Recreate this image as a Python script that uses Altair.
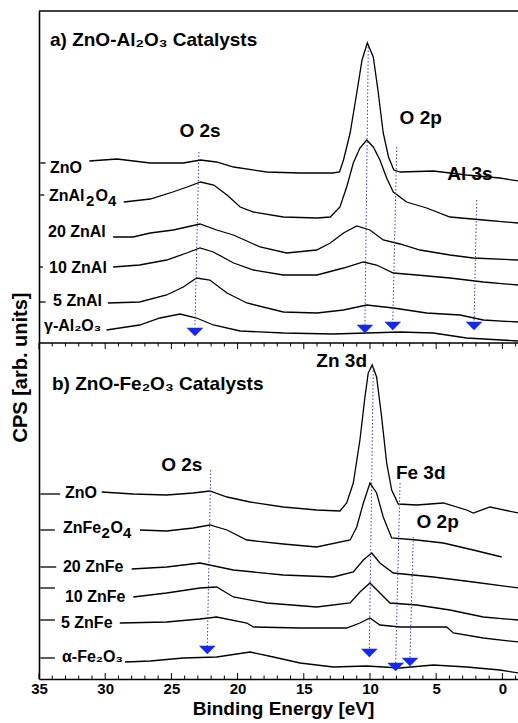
import altair as alt
import pandas as pd

FONT = "Liberation Sans"

# ---------------- Panel a) ZnO-Al2O3 spectra (binding energy [eV], stacked intensity [arb. units]) -------------
a_zno_E = [31.2, 29.1, 26.6, 24.1, 22.8, 21.6, 20.3, 17.8, 15.3, 12.8, 12.3, 12.0, 11.5, 11.0, 10.6, 10.2, 9.75, 9.4, 9.0, 8.6, 8.2, 7.7, 5.2, 2.7, 0.2, -1.2]
a_zno_u = [518, 520, 516, 516, 519, 517, 512, 507, 506, 506, 507, 519, 546, 586, 619, 636, 622, 589, 546, 522, 509, 507, 508, 504, 501, 498]
a_znal2o4_E = [28.6, 26.6, 24.9, 23.8, 22.8, 21.8, 20.8, 19.8, 18.8, 16.55, 14.0, 13.0, 12.27, 11.76, 11.26, 10.76, 10.25, 9.75, 9.25, 8.74, 8.24, 7.23, 5.72, 3.96, 1.44, -1.2]
a_znal2o4_u = [477, 480, 487, 492, 497, 494, 484, 472, 467, 462, 461, 462, 472, 492, 516, 531, 539, 532, 519, 501, 487, 477, 471, 462, 459, 456]
a_20znal_E = [29.4, 27.9, 26.6, 24.86, 23.85, 22.84, 21.58, 20.32, 18.3, 16.3, 14.03, 13.0, 12.0, 11.0, 10.0, 9.0, 7.73, 6.22, 3.96, 2.2, -1.2]
a_20znal_u = [442, 442, 446, 449, 452, 455, 449, 444, 432, 426, 429, 436, 446, 453, 449, 439, 435, 429, 424, 421, 419]
a_10znal_E = [29.4, 27.4, 25.36, 23.85, 22.84, 21.83, 20.3, 18.8, 16.55, 14.0, 12.0, 10.5, 9.5, 8.24, 6.47, 3.96, 1.44, -1.2]
a_10znal_u = [412, 414, 419, 426, 431, 427, 416, 409, 404, 404, 411, 417, 414, 406, 404, 401, 397, 394]
a_5znal_E = [29.8, 27.4, 25.36, 24.1, 23.1, 22.1, 20.8, 19.3, 16.55, 14.0, 12.0, 10.25, 8.24, 5.72, 3.2, 1.44, -1.2]
a_5znal_u = [376, 377, 384, 392, 401, 399, 386, 376, 367, 366, 369, 374, 371, 366, 364, 359, 357]
a_gal2o3_E = [29.9, 27.4, 25.86, 24.35, 23.1, 21.83, 19.8, 16.55, 12.77, 10.25, 7.73, 5.22, 2.7, -1.2]
a_gal2o3_u = [349, 354, 361, 365, 361, 354, 348, 346, 345, 346, 347, 346, 341, 338]

# ---------------- Panel b) ZnO-Fe2O3 spectra -------------
b_zno_E = [30.26, 27.88, 25.36, 23.35, 22.1, 20.8, 19.06, 16.55, 14.03, 12.27, 11.76, 11.26, 10.76, 10.38, 10.13, 9.83, 9.5, 9.12, 8.74, 8.36, 7.86, 6.47, 4.46, 2.7, 2.2, 0.94, -1.2]
b_zno_u = [187, 185, 184, 186, 188, 182, 177, 172, 169, 168, 176, 196, 239, 282, 306, 314, 302, 262, 216, 189, 175, 174, 176, 169, 166, 172, 166]
b_znfe2o4_E = [27.37, 25.36, 23.35, 22.1, 20.8, 19.3, 16.55, 14.03, 11.5, 11.0, 10.5, 10.0, 9.5, 9.0, 8.36, 6.47, 4.46, 2.2, 0.05]
b_znfe2o4_u = [149, 148, 151, 154, 149, 139, 135, 132, 139, 152, 176, 196, 186, 162, 141, 139, 136, 129, 122]
b_20znfe_E = [28.0, 25.36, 22.84, 20.32, 16.55, 12.77, 11.26, 10.5, 9.87, 9.25, 8.24, 5.22, 2.2, -1.2]
b_20znfe_u = [110, 112, 116, 109, 104, 102, 107, 119, 126, 116, 106, 102, 97, 91]
b_10znfe_E = [27.88, 25.36, 22.84, 21.58, 20.32, 17.8, 14.03, 11.5, 10.76, 10.0, 9.25, 8.49, 6.47, 3.96, 1.44, -1.2]
b_10znfe_u = [82, 86, 91, 92, 82, 76, 72, 76, 87, 96, 86, 76, 74, 69, 62, 59]
b_5znfe_E = [28.9, 25.36, 22.84, 21.58, 19.3, 18.8, 15.28, 11.76, 10.76, 10.0, 9.25, 7.73, 4.21, 3.7, 1.44, -1.2]
b_5znfe_u = [56, 57, 60, 62, 56, 52, 51, 51, 56, 61, 54, 52, 52, 46, 41, 37]
b_afe2o3_E = [28.5, 26.6, 24.1, 21.58, 19.06, 17.3, 15.28, 12.77, 10.25, 7.73, 5.22, 2.7, 0.19, -1.2]
b_afe2o3_u = [17, 18, 21, 22, 27, 22, 16, 12, 13, 11, 14, 12, 9, 6]

# short pieces of each trace visible left of its label
pre_names = ["a_zno", "a_znal2o4", "a_10znal", "a_5znal", "b_zno", "b_znfe2o4", "b_20znfe", "b_10znfe", "b_5znfe", "b_afe2o3"]
pre_E1 = [34.9, 34.9, 34.95, 35.0, 34.9, 34.9, 34.9, 34.9, 34.9, 34.9]
pre_E2 = [34.5, 34.6, 34.7, 34.5, 33.4, 33.8, 33.7, 33.8, 33.8, 33.8]
pre_u = [516, 484, 412, 377, 185, 149, 112, 91, 59, 21]

# sample labels (spinel names are assembled from pieces with lowered digits)
lab_text = ["ZnO", "20 ZnAl", "10 ZnAl", "5 ZnAl", "γ-Al₂O₃",
            "ZnO", "20 ZnFe", "10 ZnFe", "5 ZnFe", "α-Fe₂O₃",
            "ZnAl", "O", "ZnFe", "O"]
lab_E = [34.17, 34.32, 34.24, 33.94, 34.62, 33.04, 33.19, 33.04, 33.34, 33.26,
         34.245, 30.73, 33.19, 29.60]
lab_u = [511, 447, 411, 378, 353, 186, 112, 82, 56, 22,
         483, 483, 151, 151]
sub_text = ["2", "4", "2", "4"]
sub_E = [31.45, 29.79, 30.28, 28.66]
sub_u = [478, 478, 146, 146]

# peak annotations
ann_text = ["O 2s", "O 2p", "Al 3s", "Zn 3d", "O 2s", "Fe 3d", "O 2p"]
ann_E = [22.84, 6.17, 2.45, 12.14, 24.22, 6.17, 4.89]
ann_u = [548, 561, 505, 318, 214, 206, 157]

# panel titles
title_text = ["a) ZnO-Al₂O₃ Catalysts", "b) ZnO-Fe₂O₃ Catalysts"]
title_E = [34.17, 34.02]
title_u = [639, 295]

# dotted guide lines and blue markers
dl_E1 = [22.92, 10.13, 7.98, 1.94, 22.03, 9.75, 7.73, 6.73]
dl_u1 = [527, 632, 532, 479, 209, 312, 196, 142]
dl_E2 = [23.22, 10.38, 8.28, 2.14, 22.29, 10.05, 8.06, 6.98]
dl_u2 = [354, 354, 357, 357, 32, 29, 16, 21]
mk_E = [23.22, 10.38, 8.28, 2.14, 22.29, 10.05, 8.06, 6.98]
mk_u = [347, 350, 353, 353, 29, 26, 12, 17]

# axis ticks
major_ticks = [35, 30, 25, 20, 15, 10, 5, 0]
minor_ticks = [35, 34, 33, 32, 31, 30, 29, 28, 27, 26, 25, 24, 23, 22, 21, 20, 19, 18, 17,
               16, 15, 14, 13, 12, 11, 10, 9, 8, 7, 6, 5, 4, 3, 2, 1, 0, -1]
frame_u = [668, 336]
bottom_u, mid_u = 0, 336

# ---------------- build tables -------------
traces = {
    "a_zno": (a_zno_E, a_zno_u), "a_znal2o4": (a_znal2o4_E, a_znal2o4_u),
    "a_20znal": (a_20znal_E, a_20znal_u), "a_10znal": (a_10znal_E, a_10znal_u),
    "a_5znal": (a_5znal_E, a_5znal_u), "a_gal2o3": (a_gal2o3_E, a_gal2o3_u),
    "b_zno": (b_zno_E, b_zno_u), "b_znfe2o4": (b_znfe2o4_E, b_znfe2o4_u),
    "b_20znfe": (b_20znfe_E, b_20znfe_u), "b_10znfe": (b_10znfe_E, b_10znfe_u),
    "b_5znfe": (b_5znfe_E, b_5znfe_u), "b_afe2o3": (b_afe2o3_E, b_afe2o3_u),
}
rows = []
for name, (es, us) in traces.items():
    for i, (e, u) in enumerate(zip(es, us)):
        rows.append({"seg": name, "E": e, "u": u, "order": i})
for name, e1, e2, u in zip(pre_names, pre_E1, pre_E2, pre_u):
    rows.append({"seg": name + "_pre", "E": e1, "u": u, "order": 0})
    rows.append({"seg": name + "_pre", "E": e2, "u": u, "order": 1})
spec_df = pd.DataFrame(rows)

tick_rows = []
for t in minor_ticks:
    L = 6 if t in major_ticks else 3.5
    tick_rows.append({"E": t, "u": bottom_u, "u2": bottom_u + L})
    tick_rows.append({"E": t, "u": mid_u, "u2": mid_u - L})
tick_df = pd.DataFrame(tick_rows)

x_enc = alt.X("E:Q",
              scale=alt.Scale(domain=[35, -1.18], nice=False, zero=False),
              axis=alt.Axis(values=major_ticks, ticks=False, tickSize=0, grid=False,
                            labelFont=FONT, labelFontSize=15, labelFontWeight="bold",
                            labelColor="black", labelPadding=2, labelFlush=False,
                            domainColor="black", domainWidth=1.6,
                            title="Binding Energy [eV]", titleFont=FONT, titleFontSize=19,
                            titleFontWeight="bold", titleColor="black",
                            titleX=244, titleY=29, titleBaseline="middle"))
y_enc = alt.Y("u:Q",
              scale=alt.Scale(domain=[0, 668], nice=False, zero=False),
              axis=alt.Axis(labels=False, ticks=False, tickSize=0, grid=False,
                            domainColor="black", domainWidth=1.6,
                            title="CPS [arb. units]", titleFont=FONT, titleFontSize=20,
                            titleFontWeight="bold", titleColor="black",
                            titleX=-19, titleY=356, titleAngle=-90,
                            titleBaseline="middle", titleAlign="center"))

spectra = alt.Chart(spec_df).mark_line(color="black", strokeWidth=1.3, clip=True).encode(
    x=x_enc, y=y_enc, detail="seg:N", order="order:Q")

frame = alt.Chart(pd.DataFrame({"u": frame_u})).mark_rule(
    color="black", strokeWidth=1.6).encode(y="u:Q")

ticks = alt.Chart(tick_df).mark_rule(color="black", strokeWidth=1).encode(
    x="E:Q", y="u:Q", y2="u2:Q")

dotted = alt.Chart(pd.DataFrame({"E": dl_E1, "u": dl_u1, "E2": dl_E2, "u2": dl_u2})).mark_rule(
    color="#3a3ae6", strokeWidth=1, strokeDash=[1.5, 2]).encode(
    x="E:Q", y="u:Q", x2="E2:Q", y2="u2:Q")

markers = alt.Chart(pd.DataFrame({"E": mk_E, "u": mk_u})).mark_point(
    shape="M -1 -0.5 L 1 -0.5 L 0 0.5 Z", size=280, filled=True,
    color="#1428f0", opacity=1).encode(x="E:Q", y="u:Q")

labels = alt.Chart(pd.DataFrame({"E": lab_E, "u": lab_u, "t": lab_text})).mark_text(
    font=FONT, fontSize=16, fontWeight="bold", align="left", baseline="middle",
    color="black").encode(x="E:Q", y="u:Q", text="t:N")

subs = alt.Chart(pd.DataFrame({"E": sub_E, "u": sub_u, "t": sub_text})).mark_text(
    font=FONT, fontSize=15, fontWeight="bold", align="left", baseline="middle",
    color="black").encode(x="E:Q", y="u:Q", text="t:N")

ann = alt.Chart(pd.DataFrame({"E": ann_E, "u": ann_u, "t": ann_text})).mark_text(
    font=FONT, fontSize=19, fontWeight="bold", align="center", baseline="middle",
    color="black").encode(x="E:Q", y="u:Q", text="t:N")

titles = alt.Chart(pd.DataFrame({"E": title_E, "u": title_u, "t": title_text})).mark_text(
    font=FONT, fontSize=19, fontWeight="bold", align="left", baseline="middle",
    color="black").encode(x="E:Q", y="u:Q", text="t:N")

chart = alt.layer(spectra, frame, ticks, dotted, markers, labels, subs, ann, titles).properties(
    width=479, height=668,
    autosize=alt.AutoSizeParams(type="none"),
    padding={"left": 39, "top": 11, "right": 0, "bottom": 44},
    background="white",
).configure_view(stroke=None)

chart.save("out.html", embed_options={"renderer": "svg", "actions": False})
